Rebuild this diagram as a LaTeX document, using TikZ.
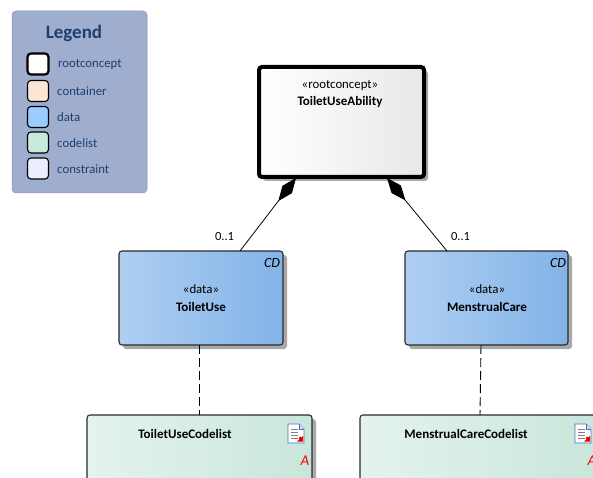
\documentclass[tikz,border=0pt]{standalone}
\usepackage{fontspec}
\setmainfont{Carlito}
\usetikzlibrary{arrows.meta,shadows,calc}
\definecolor{legbg}{HTML}{9FAECF}
\definecolor{legtxt}{HTML}{1F3F6E}
\definecolor{dataL}{HTML}{AFCFF2}
\definecolor{dataR}{HTML}{82B3E8}
\definecolor{codeL}{HTML}{E5F3EE}
\definecolor{codeR}{HTML}{C8E6DB}
\definecolor{edge}{HTML}{2A2A2A}
\definecolor{shade}{HTML}{A8A8A8}
\definecolor{swcont}{HTML}{FBE6D6}
\definecolor{swdata}{HTML}{99CCFF}
\definecolor{swcode}{HTML}{C6EBDD}
\definecolor{swcons}{HTML}{ECEEFD}
\definecolor{iconblue}{HTML}{4A73B8}
\tikzset{
  x=1pt,y=-1pt,
  box/.style={draw=edge,line width=1.1pt,rounded corners=3pt,inner sep=0pt,outer sep=0pt,anchor=north west,
     general shadow={shadow xshift=4pt,shadow yshift=-4pt,fill=shade}},
  swatch/.style={draw=black,line width=1.1pt,rounded corners=3.5pt,inner sep=0pt,outer sep=0pt,minimum width=21pt,minimum height=21pt,anchor=north west},
  legtext/.style={text=legtxt,font=\fontsize{12.8}{14}\selectfont,anchor=west,inner sep=0pt},
  stereo/.style={text=black,font=\fontsize{12.8}{14}\selectfont,inner sep=0pt},
  title/.style={text=black,font=\bfseries\fontsize{13}{15}\selectfont,inner sep=0pt},
  mult/.style={text=black,font=\fontsize{12.5}{14}\selectfont,inner sep=0pt},
  conn/.style={draw=black,line width=0.8pt},
  dep/.style={draw=black,line width=0.9pt,dash pattern=on 9pt off 4pt},
  agg/.style={conn,{Diamond[length=29pt,width=12pt,fill=black]}-},
}
\newcommand{\docicon}[1]{%
  \begin{scope}[shift={(#1)}]
    \fill[white] (0,0) -- (11,0) -- (16,5) -- (16,19) -- (0,19) -- cycle;
    \draw[draw=iconblue,line width=0.9pt] (0,0) -- (11,0) -- (16,5) -- (16,19) -- (0,19) -- cycle;
    \draw[draw=iconblue,line width=0.7pt,fill=blue!15] (11,0) -- (11,5) -- (16,5);
    \foreach \yy in {5,8,11,14} \draw[gray,line width=0.8pt] (3,\yy) -- (10,\yy);
    \fill[red!90!black] (9,17.5) -- (15,17.5) -- (15,12) -- (13.2,13.6) -- (12,12.5) -- (10.6,14) -- (11.6,15) -- cycle;
  \end{scope}}
\begin{document}
\begin{tikzpicture}
\useasboundingbox (0,0) rectangle (593,478);
\clip (0,0) rectangle (593,478);
% legend
\node[fill=legbg,draw=legbg!85!black,line width=0.5pt,rounded corners=4pt,inner sep=0pt,outer sep=0pt,anchor=north west,minimum width=135pt,minimum height=182pt] (legend) at (12,11) {};
\node[text=legtxt,font=\bfseries\fontsize{19}{22}\selectfont,inner sep=0pt] (legendtitle) at (74,33) {Legend};
\node[swatch,fill=white,line width=2.2pt] (s1) at (27.5,53.5) {};
\node[swatch,fill=swcont] (s2) at (27.5,80.5) {};
\node[swatch,fill=swdata] (s3) at (27.5,106.5) {};
\node[swatch,fill=swcode] (s4) at (27.5,132) {};
\node[swatch,fill=swcons] (s5) at (27.5,158) {};
\node[legtext] (t1) at (58,64) {rootconcept};
\node[legtext] (t2) at (57,91) {container};
\node[legtext] (t3) at (57,117) {data};
\node[legtext] (t4) at (57,143) {codelist};
\node[legtext] (t5) at (57,169) {constraint};
% main boxes
\node[box,draw=black,line width=4pt,rounded corners=3pt,left color=white,right color=black!9,minimum width=165pt,minimum height=110pt,
      general shadow={shadow xshift=3pt,shadow yshift=-3pt,fill=shade}] (root) at (259,67) {};
\node[stereo] (rootst) at (340,85) {«rootconcept»};
\node[title] (roottt) at (340,102) {ToiletUseAbility};
\node[box,left color=dataL,right color=dataR,minimum width=164pt,minimum height=94pt] (use) at (119,251) {};
\node[stereo] (usest) at (201,289) {«data»};
\node[title] (usett) at (201,307) {ToiletUse};
\node[text=black,font=\itshape\fontsize{14}{16}\selectfont,inner sep=0pt] (usecd) at (272,263) {CD};
\node[box,left color=dataL,right color=dataR,minimum width=163pt,minimum height=94pt] (care) at (405,251) {};
\node[stereo] (carest) at (487,289) {«data»};
\node[title] (carett) at (487,307) {MenstrualCare};
\node[text=black,font=\itshape\fontsize{14}{16}\selectfont,inner sep=0pt] (carecd) at (558,263) {CD};
\node[box,left color=codeL,right color=codeR,minimum width=225pt,minimum height=90pt] (code1) at (87,415) {};
\node[title] (code1tt) at (185,434) {ToiletUseCodelist};
\docicon{288,424}
\node[text=red,font=\itshape\fontsize{15}{17}\selectfont,inner sep=0pt] (code1a) at (305,461) {A};
\node[box,left color=codeL,right color=codeR,minimum width=239pt,minimum height=90pt] (code2) at (360,415) {};
\node[title] (code2tt) at (466,434) {MenstrualCareCodelist};
\docicon{575,424}
\node[text=red,font=\itshape\fontsize{15}{17}\selectfont,inner sep=0pt] (code2a) at (592,461) {A};
% connectors
\coordinate (r1) at (296,178);
\coordinate (r2) at (387,178);
\coordinate (u1) at (240,251);
\coordinate (c1) at (447,251);
\coordinate (us) at (199,345);
\coordinate (cs) at (481,345);
\coordinate (d1) at (199,415);
\coordinate (d2) at (480,415);
\draw[agg] (r1) -- (u1);
\draw[agg] (r2) -- (c1);
\draw[dep] (us) -- (d1);
\draw[dep] (cs) -- (d2);
\node[mult] (m1) at (224.5,236) {0..1};
\node[mult] (m2) at (460.5,236) {0..1};
\end{tikzpicture}
\end{document}
